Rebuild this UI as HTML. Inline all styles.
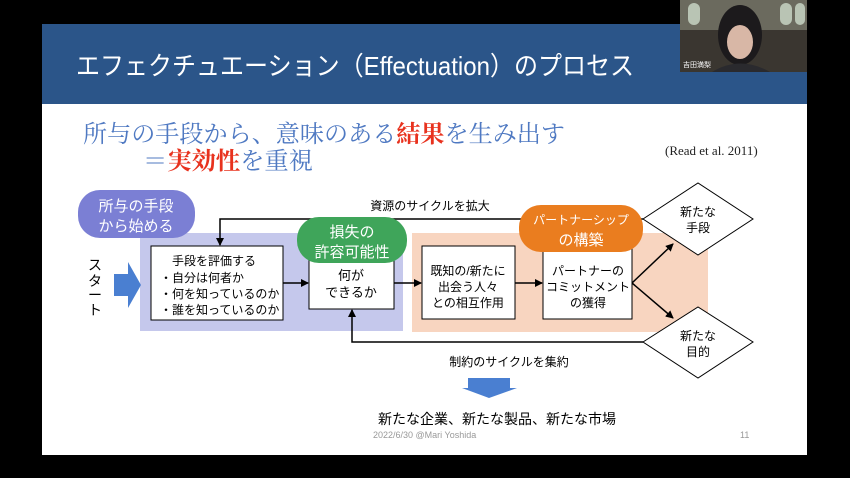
<!DOCTYPE html>
<html><head><meta charset="utf-8"><style>
html,body{margin:0;padding:0;background:#000;width:850px;height:478px;overflow:hidden}
svg{display:block}
.s{font-family:"Liberation Sans","Noto Sans CJK JP",sans-serif}
.m{font-family:"Liberation Serif","Noto Serif CJK SC",serif}
</style></head><body>
<svg width="850" height="478" viewBox="0 0 850 478" xmlns="http://www.w3.org/2000/svg">
<defs>
<marker id="a" markerWidth="8" markerHeight="8" refX="7" refY="4" orient="auto" markerUnits="userSpaceOnUse"><path d="M0,0 L8,4 L0,8 z" fill="#000"/></marker>
</defs>
<rect x="0" y="0" width="850" height="478" fill="#000"/>
<rect x="42" y="24" width="765" height="80" fill="#2b5589"/>
<rect x="42" y="104" width="765" height="351" fill="#fff"/>
<text x="76" y="75" class="s" font-size="26" fill="#fff" textLength="558" lengthAdjust="spacingAndGlyphs">エフェクチュエーション（Effectuation）のプロセス</text>
<!-- webcam -->
<rect x="680" y="0" width="127" height="72" fill="#3a3630"/>
<rect x="680" y="0" width="127" height="30" fill="#6b6a5e"/>
<rect x="688" y="3" width="12" height="22" rx="6" fill="#b9c4b4"/>
<rect x="780" y="3" width="12" height="22" rx="6" fill="#b9c4b4"/>
<rect x="795" y="3" width="10" height="22" rx="5" fill="#b9c4b4"/>
<ellipse cx="740" cy="35" rx="22" ry="30" fill="#1c1a1c"/>
<ellipse cx="740" cy="42" rx="13" ry="17" fill="#d8b7a6"/>
<path d="M712,72 Q740,55 770,72 z" fill="#2a2a2e"/>
<text x="683" y="67" class="s" font-size="7" fill="#fff">吉田満梨</text>
<!-- subtitle -->
<text x="83" y="142" class="m" font-size="24" fill="#4f79c2" textLength="482" lengthAdjust="spacingAndGlyphs">所与の手段から、意味のある<tspan fill="#e8321e" font-weight="bold">結果</tspan>を生み出す</text>
<text x="143" y="169" class="m" font-size="24" fill="#4f79c2" textLength="170" lengthAdjust="spacingAndGlyphs">＝<tspan fill="#e8321e" font-weight="bold">実効性</tspan>を重視</text>
<text x="665" y="155" class="m" font-size="13" fill="#222">(Read et al. 2011)</text>
<!-- backgrounds -->
<rect x="140" y="233" width="263" height="98" fill="#c5c8ec"/>
<rect x="412" y="233" width="296" height="99" fill="#f8d5c0"/>
<!-- loops -->
<polyline points="643,219 220,219 220,245" fill="none" stroke="#000" stroke-width="1.5" marker-end="url(#a)"/>
<polyline points="643,342 352,342 352,310" fill="none" stroke="#000" stroke-width="1.5" marker-end="url(#a)"/>
<text x="430" y="210" class="s" font-size="12" text-anchor="middle" fill="#000">資源のサイクルを拡大</text>
<text x="509" y="366" class="s" font-size="12" text-anchor="middle" fill="#000">制約のサイクルを集約</text>
<!-- boxes -->
<rect x="151" y="246" width="132" height="74" fill="#fff" stroke="#000" stroke-width="1"/>
<text class="s" font-size="12" fill="#000"><tspan x="172" y="265">手段を評価する</tspan><tspan x="160" y="282">・自分は何者か</tspan><tspan x="160" y="298">・何を知っているのか</tspan><tspan x="160" y="314">・誰を知っているのか</tspan></text>
<rect x="309" y="246" width="85" height="63" fill="#fff" stroke="#000" stroke-width="1"/>
<text class="s" font-size="13" fill="#000" text-anchor="middle"><tspan x="351" y="280">何が</tspan><tspan x="351" y="297">できるか</tspan></text>
<rect x="422" y="246" width="93" height="73" fill="#fff" stroke="#000" stroke-width="1"/>
<text class="s" font-size="12" fill="#000" text-anchor="middle"><tspan x="468" y="275">既知の/新たに</tspan><tspan x="468" y="291">出会う人々</tspan><tspan x="468" y="307">との相互作用</tspan></text>
<rect x="543" y="246" width="89" height="73" fill="#fff" stroke="#000" stroke-width="1"/>
<text class="s" font-size="12" fill="#000" text-anchor="middle"><tspan x="588" y="275">パートナーの</tspan><tspan x="588" y="291">コミットメント</tspan><tspan x="588" y="307">の獲得</tspan></text>
<!-- arrows -->
<line x1="283" y1="283" x2="308" y2="283" stroke="#000" stroke-width="1.5" marker-end="url(#a)"/>
<line x1="394" y1="283" x2="421" y2="283" stroke="#000" stroke-width="1.5" marker-end="url(#a)"/>
<line x1="515" y1="283" x2="542" y2="283" stroke="#000" stroke-width="1.5" marker-end="url(#a)"/>
<line x1="632" y1="283" x2="673" y2="244" stroke="#000" stroke-width="1.5" marker-end="url(#a)"/>
<line x1="632" y1="283" x2="673" y2="318" stroke="#000" stroke-width="1.5" marker-end="url(#a)"/>
<!-- diamonds -->
<polygon points="643,219 698,183 753,219 698,255" fill="#fff" stroke="#000" stroke-width="1"/>
<text class="s" font-size="12" text-anchor="middle" fill="#000"><tspan x="698" y="216">新たな</tspan><tspan x="698" y="232">手段</tspan></text>
<polygon points="643,342 698,307 753,342 698,378" fill="#fff" stroke="#000" stroke-width="1"/>
<text class="s" font-size="12" text-anchor="middle" fill="#000"><tspan x="698" y="340">新たな</tspan><tspan x="698" y="356">目的</tspan></text>
<!-- bubbles -->
<rect x="78" y="190" width="117" height="48" rx="22" fill="#7b7fd4"/>
<text class="s" font-size="15" text-anchor="middle" fill="#fff"><tspan x="136" y="211">所与の手段</tspan><tspan x="136" y="231">から始める</tspan></text>
<rect x="297" y="217" width="110" height="46" rx="22" fill="#3fa55a"/>
<text class="s" font-size="15" text-anchor="middle" fill="#fff"><tspan x="352" y="237">損失の</tspan><tspan x="352" y="257">許容可能性</tspan></text>
<rect x="519" y="205" width="124" height="47" rx="22" fill="#ea7d1f"/>
<text class="s" font-size="12" text-anchor="middle" fill="#fff"><tspan x="581" y="224">パートナーシップ</tspan><tspan x="581" y="245" font-size="15">の構築</tspan></text>
<!-- start -->
<text class="s" font-size="14" fill="#000" text-anchor="middle"><tspan x="95" y="270">ス</tspan><tspan x="95" y="286">タ</tspan><tspan x="95" y="300">ー</tspan><tspan x="95" y="315">ト</tspan></text>
<polygon points="114,274 128,274 128,262 141,285 128,308 128,296 114,296" fill="#4a7fd1"/>
<!-- down arrow -->
<polygon points="468,378 510,378 510,388 517,388 489,398 462,388 468,388" fill="#4a7fd1"/>
<text x="497" y="424" class="s" font-size="14" text-anchor="middle" fill="#000">新たな企業、新たな製品、新たな市場</text>
<text x="373" y="438" class="s" font-size="9" fill="#999">2022/6/30 @Mari Yoshida</text>
<text x="740" y="438" class="s" font-size="9" fill="#999">11</text>
</svg>
</body></html>
